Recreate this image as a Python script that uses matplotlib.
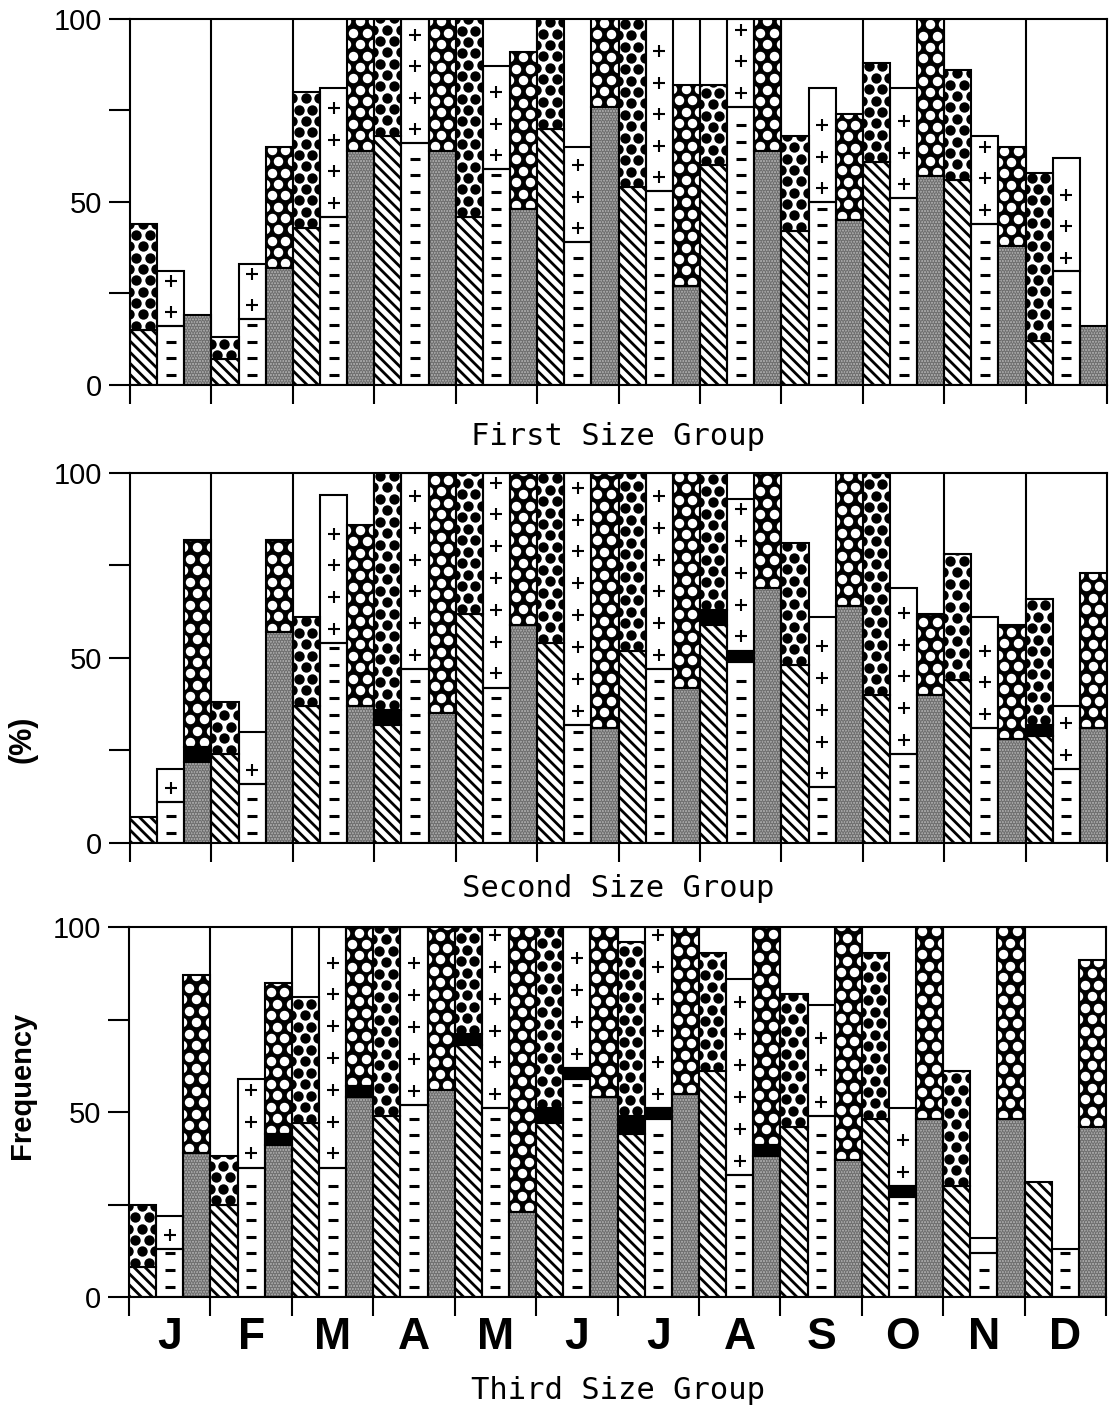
import numpy as np
import matplotlib
matplotlib.use("Agg")
import matplotlib.pyplot as plt
from matplotlib.transforms import blended_transform_factory

MONTHS = ["J", "F", "M", "A", "M", "J", "J", "A", "S", "O", "N", "D"]
TITLES = ["First Size Group", "Second Size Group", "Third Size Group"]

# three bars per month (hatched / dashed / stippled series)
# low = first stage %, band = black stage %, top = cumulative height %
g1_low = [15, 16, 19, 7, 18, 32, 43, 46, 64, 68, 66, 64, 46, 59, 48, 70, 39, 76,
          54, 53, 27, 60, 76, 64, 42, 50, 45, 61, 51, 57, 56, 44, 38, 12, 31, 16]
g1_band = [0] * 36
g1_top = [44, 31, 19, 13, 33, 65, 80, 81, 100, 100, 100, 100, 100, 87, 91, 100, 65, 100,
          100, 100, 82, 82, 100, 100, 68, 81, 74, 88, 81, 100, 86, 68, 65, 58, 62, 16]

g2_low = [7, 11, 22, 24, 16, 57, 37, 54, 37, 32, 47, 35, 62, 42, 59, 54, 32, 31,
          52, 47, 42, 59, 49, 69, 48, 15, 64, 40, 24, 40, 44, 31, 28, 29, 20, 31]
g2_band = [0, 0, 4, 0, 0, 0, 0, 0, 0, 4, 0, 0, 0, 0, 0, 0, 0, 0,
           0, 0, 0, 4, 3, 0, 0, 0, 0, 0, 0, 0, 0, 0, 0, 3, 0, 0]
g2_top = [7, 20, 82, 38, 30, 82, 61, 94, 86, 100, 100, 100, 100, 100, 100, 100, 100, 100,
          100, 100, 100, 100, 93, 100, 81, 61, 100, 100, 69, 62, 78, 61, 59, 66, 37, 73]

g3_low = [8, 13, 39, 25, 35, 41, 47, 35, 54, 49, 52, 56, 68, 51, 23, 47, 59, 54,
          44, 48, 55, 61, 33, 38, 46, 49, 37, 48, 27, 48, 30, 12, 48, 31, 13, 46]
g3_band = [0, 0, 0, 0, 0, 3, 0, 0, 3, 0, 0, 0, 3, 0, 0, 4, 3, 0,
           5, 3, 0, 0, 0, 3, 0, 0, 0, 0, 3, 0, 0, 0, 0, 0, 0, 0]
g3_top = [25, 22, 87, 38, 59, 85, 81, 100, 100, 100, 100, 100, 100, 100, 100, 100, 100, 100,
          96, 100, 100, 93, 86, 100, 82, 79, 100, 93, 51, 100, 61, 16, 100, 31, 13, 91]

plt.rcParams["hatch.linewidth"] = 2.0
plt.rcParams["font.family"] = ["Liberation Sans", "DejaVu Sans"]

LW = 1.5
GRAY = "#adadad"


def dot_texture(ax, patch, x0, y0, y1, color, size):
    # staggered screen-tone dots, clipped to the segment
    dx, dy = 0.5, 3.1
    rows = np.arange(y0 + 1.2, y1 + dy, dy)
    xs, ys = [], []
    for r, yy in enumerate(rows):
        off = 0.22 + (dx / 2 if r % 2 else 0)
        for xx in np.arange(x0 + off - dx, x0 + 1 + dx, dx):
            xs.append(xx)
            ys.append(yy)
    sc = ax.scatter(xs, ys, s=size, c=color, linewidths=0, zorder=2.5)
    sc.set_clip_path(patch)


def segment(ax, xc, y0, h, kind):
    if h <= 0:
        return
    if kind == "hatch":
        b = ax.bar(xc, h, 1, y0, color="white", edgecolor="black", hatch="\\\\\\",
                   linewidth=0, zorder=2)
    elif kind == "stipple":
        b = ax.bar(xc, h, 1, y0, color=GRAY, edgecolor="#707070", hatch="......",
                   linewidth=0, zorder=2)
    elif kind == "band":
        b = ax.bar(xc, h, 1, y0, color="black", linewidth=0, zorder=2)
    elif kind == "wdots":
        b = ax.bar(xc, h, 1, y0, color="white", linewidth=0, zorder=2)
        dot_texture(ax, b[0], xc - 0.5, y0, y0 + h, "black", 56)
    elif kind == "bdots":
        b = ax.bar(xc, h, 1, y0, color="black", linewidth=0, zorder=2)
        dot_texture(ax, b[0], xc - 0.5, y0, y0 + h, "white", 46)
    else:
        b = ax.bar(xc, h, 1, y0, color="white", linewidth=0, zorder=2)
        if kind == "minus":
            ys = np.arange(y0 + 2.7, y0 + h - 1.0, 4.55)
            ax.plot(np.full(len(ys), xc), ys, ls="none", marker="_", ms=7.5,
                    mew=2.2, color="black", zorder=3)
        else:
            ys = np.arange(y0 + 3.8, y0 + h - 2.0, 8.6)
            ax.plot(np.full(len(ys), xc), ys, ls="none", marker="+", ms=8.5,
                    mew=1.5, color="black", zorder=3)
    ax.bar(xc, h, 1, y0, fill=False, edgecolor="black", linewidth=LW, zorder=4)


def draw_panel(ax, low, band, top):
    low, band, top = (np.asarray(v, float) for v in (low, band, top))
    upper = top - low - band
    styles = [("hatch", "wdots"), ("minus", "plus"), ("stipple", "bdots")]
    for i in range(len(low)):
        xc = i + 0.5
        bottom_kind, top_kind = styles[i % 3]
        segment(ax, xc, 0, low[i], bottom_kind)
        segment(ax, xc, low[i], band[i], "band")
        segment(ax, xc, low[i] + band[i], upper[i], top_kind)

    for xb in range(3, 36, 3):
        ax.axvline(xb, color="black", lw=LW, zorder=1)
    ax.set_xlim(0, 36)
    ax.set_ylim(0, 100)
    ax.set_xticks(np.arange(0, 37, 3))
    ax.set_yticks([0, 25, 50, 75, 100])
    ax.set_yticklabels(["0", "", "50", "", "100"])
    ax.tick_params(axis="x", direction="out", length=14, width=LW, labelbottom=False)
    ax.tick_params(axis="y", direction="out", length=15, width=LW, labelsize=21, pad=5)
    for sp in ax.spines.values():
        sp.set_linewidth(LW)
        sp.set_zorder(5)


fig = plt.figure(figsize=(11.17, 14.22), dpi=100)
boxes = [(0.1164, 0.7293, 0.8747, 0.2574),
         (0.1164, 0.4072, 0.8747, 0.2602),
         (0.1155, 0.0879, 0.8747, 0.2602)]
data = [(g1_low, g1_band, g1_top), (g2_low, g2_band, g2_top), (g3_low, g3_band, g3_top)]
axes = []
for box, d in zip(boxes, data):
    ax = fig.add_axes(box)
    draw_panel(ax, *d)
    axes.append(ax)

title_y = [0.6927, 0.3755, 0.0225]
for t, y in zip(TITLES, title_y):
    fig.text(0.553, y, t, ha="center", va="center", family="DejaVu Sans Mono", fontsize=22)

ax3 = axes[2]
tr = blended_transform_factory(ax3.transData, ax3.transAxes)
for k, m in enumerate(MONTHS):
    ax3.text(3 * k + 1.5, -0.11, m, transform=tr, ha="center", va="center",
             fontsize=32, fontweight="bold")

fig.text(0.02, 0.48, "(%)", rotation=90, ha="center", va="center", fontsize=22,
         fontweight="bold")
fig.text(0.02, 0.237, "Frequency", rotation=90, ha="center", va="center", fontsize=21,
         fontweight="bold")

fig.savefig("out.png", dpi=100)
